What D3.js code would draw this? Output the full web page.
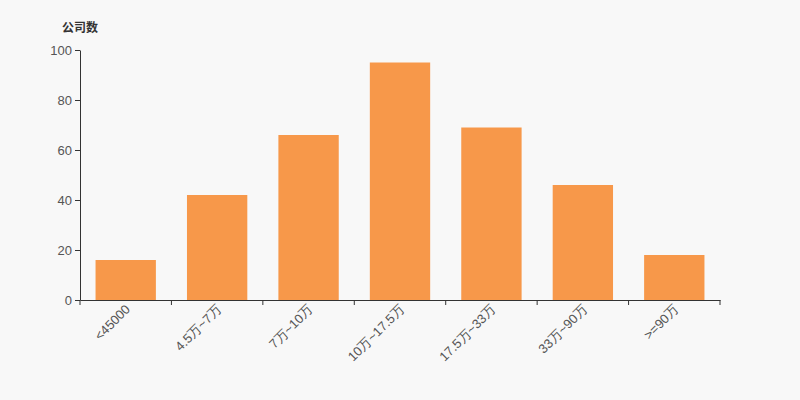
<!DOCTYPE html>
<html><head><meta charset="utf-8">
<script src="https://cdn.jsdelivr.net/npm/d3@7"></script>
<style>
html,body{margin:0;padding:0;background:#f8f8f8;}
svg{display:block;font-family:"Liberation Sans","DejaVu Sans","Noto Sans CJK SC",sans-serif;}
</style></head>
<body>
<svg id="c" width="800" height="400"></svg>
<script>
const categories = ["<45000","4.5万~7万","7万~10万","10万~17.5万","17.5万~33万","33万~90万",">=90万"];
const values = [16, 42, 66, 95, 69, 46, 18];
const yTicks = [0, 20, 40, 60, 80, 100];
const yTitle = "公司数";

const svg = d3.select("#c");
svg.append("rect").attr("width",800).attr("height",400).attr("fill","#f8f8f8");
const m = {l:80, r:80, t:50, b:100};
const W = 800 - m.l - m.r, H = 400 - m.t - m.b;
const g = svg.append("g").attr("transform",`translate(${m.l},${m.t})`);

const x = d3.scaleBand().domain(categories).range([0,W]).paddingInner(0.34).paddingOuter(0.17);
const xb = d3.scaleBand().domain(categories).range([0,W]);
const y = d3.scaleLinear().domain([0,100]).range([H,0]);

g.selectAll("rect.bar").data(values).enter().append("rect")
  .attr("class","bar")
  .attr("x",(d,i)=>x(categories[i]))
  .attr("width",x.bandwidth())
  .attr("y",d=>y(d))
  .attr("height",d=>H-y(d))
  .attr("fill","#f7984a");

// y axis
const ya = g.append("g").call(d3.axisLeft(y).tickValues(yTicks).tickSize(5).tickSizeOuter(0));
ya.select(".domain").attr("stroke","#333");
ya.selectAll(".tick line").attr("stroke","#333");
ya.selectAll(".tick text").attr("fill","#555").attr("font-size",13).attr("x",-8);

// x axis
const xa = g.append("g").attr("transform",`translate(0,${H})`)
  .call(d3.axisBottom(xb).tickSize(0).tickSizeOuter(0));
xa.select(".domain").attr("stroke","#333");
const bounds = categories.map(c=>xb(c)).concat([W]);
xa.selectAll("line.bt").data(bounds).enter().append("line")
  .attr("class","bt").attr("x1",d=>d).attr("x2",d=>d).attr("y1",0).attr("y2",5).attr("stroke","#333");
xa.selectAll(".tick text")
  .attr("fill","#555").attr("font-size",13)
  .attr("text-anchor","end")
  .attr("dy","0")
  .attr("transform","translate(3,8) rotate(-45)");

svg.append("text").attr("x",62).attr("y",32).attr("font-size",12).attr("font-weight","bold")
  .attr("fill","#333").text(yTitle);
</script>
</body></html>
